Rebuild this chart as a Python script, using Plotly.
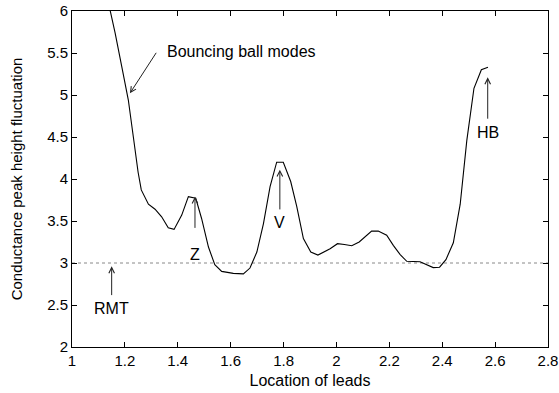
import plotly.graph_objects as go

# data
lead_x = [1.125, 1.163, 1.188, 1.213, 1.232, 1.25, 1.262, 1.289, 1.314, 1.339,
          1.364, 1.386, 1.415, 1.44, 1.468, 1.49, 1.516, 1.54, 1.566, 1.61,
          1.648, 1.673, 1.699, 1.724, 1.749, 1.774, 1.799, 1.827, 1.85, 1.875,
          1.903, 1.93, 1.976, 2.004, 2.03, 2.058, 2.086, 2.133, 2.158, 2.19,
          2.215, 2.241, 2.266, 2.316, 2.366, 2.39, 2.414, 2.442, 2.468, 2.493,
          2.52, 2.548, 2.573]
fluct_y = [6.28, 5.74, 5.34, 4.94, 4.50, 4.08, 3.87, 3.70, 3.64, 3.55,
           3.42, 3.40, 3.57, 3.79, 3.77, 3.53, 3.19, 2.98, 2.90, 2.877,
           2.87, 2.94, 3.13, 3.47, 3.91, 4.20, 4.20, 3.97, 3.67, 3.29,
           3.13, 3.095, 3.17, 3.23, 3.22, 3.205, 3.25, 3.38, 3.38, 3.33,
           3.21, 3.10, 3.02, 3.015, 2.945, 2.95, 3.04, 3.24, 3.70, 4.46,
           5.08, 5.30, 5.33]
rmt_level = 3.0
x_ticks = [1, 1.2, 1.4, 1.6, 1.8, 2, 2.2, 2.4, 2.6, 2.8]
y_ticks = [2, 2.5, 3, 3.5, 4, 4.5, 5, 5.5, 6]

labels = ["Bouncing ball modes", "Z", "V", "RMT", "HB"]

font = "Liberation Sans, Arial, Helvetica, sans-serif"
tick_font = dict(size=15, family=font, color="black")
ann_font = dict(size=16, family=font, color="black")
xt_font = dict(size=16, family=font, color="black")
yt_font = dict(size=15, family=font, color="black")

fig = go.Figure()
fig.add_trace(go.Scatter(x=[1, 2.8], y=[rmt_level, rmt_level], mode="lines",
                         line=dict(color="#888888", width=1, dash="dot"),
                         hoverinfo="skip", showlegend=False))
fig.add_trace(go.Scatter(x=lead_x, y=fluct_y, mode="lines",
                         line=dict(color="black", width=1.1),
                         showlegend=False))

arrow_style = dict(showarrow=True, arrowhead=5, arrowsize=1.1, arrowwidth=1,
                   arrowcolor="#222222", xref="x", yref="y", axref="x", ayref="y")

# Bouncing ball modes
fig.add_annotation(x=1.219, y=5.02, ax=1.322, ay=5.52, text="", **arrow_style)
fig.add_annotation(x=1.352, y=5.52, text=labels[0], showarrow=False,
                   xanchor="left", yanchor="middle", font=ann_font)
# Z
fig.add_annotation(x=1.465, y=3.79, ax=1.465, ay=3.40, text="", **arrow_style)
fig.add_annotation(x=1.465, y=3.10, text=labels[1], showarrow=False, font=ann_font)
# V
fig.add_annotation(x=1.786, y=4.11, ax=1.786, ay=3.62, text="", **arrow_style)
fig.add_annotation(x=1.786, y=3.48, text=labels[2], showarrow=False, font=ann_font)
# RMT
fig.add_annotation(x=1.150, y=2.96, ax=1.150, ay=2.60, text="", **arrow_style)
fig.add_annotation(x=1.150, y=2.46, text=labels[3], showarrow=False, font=ann_font)
# HB
fig.add_annotation(x=2.572, y=5.21, ax=2.572, ay=4.70, text="", **arrow_style)
fig.add_annotation(x=2.572, y=4.55, text=labels[4], showarrow=False, font=ann_font)

axis_common = dict(showline=True, linecolor="black", linewidth=1, mirror="ticks",
                   ticks="inside", ticklen=5, tickcolor="black", showgrid=False,
                   zeroline=False, tickfont=tick_font, automargin=False)

fig.update_xaxes(range=[1, 2.8], tickvals=x_ticks,
                 ticktext=[f"{v:g}" for v in x_ticks], ticklabelstandoff=0,
                 title=dict(text="Location of leads", font=xt_font, standoff=6),
                 **axis_common)
fig.update_yaxes(range=[2, 6], tickvals=y_ticks,
                 ticktext=[f"{v:g}" for v in y_ticks], ticklabelstandoff=0,
                 title=dict(text="Conductance peak height fluctuation", font=yt_font, standoff=20),
                 **axis_common)

fig.update_layout(width=559, height=393, margin=dict(l=72, r=11, t=11, b=46),
                  plot_bgcolor="white", paper_bgcolor="white",
                  font=dict(family=font, size=15, color="black"))

fig.write_html("out.html")
